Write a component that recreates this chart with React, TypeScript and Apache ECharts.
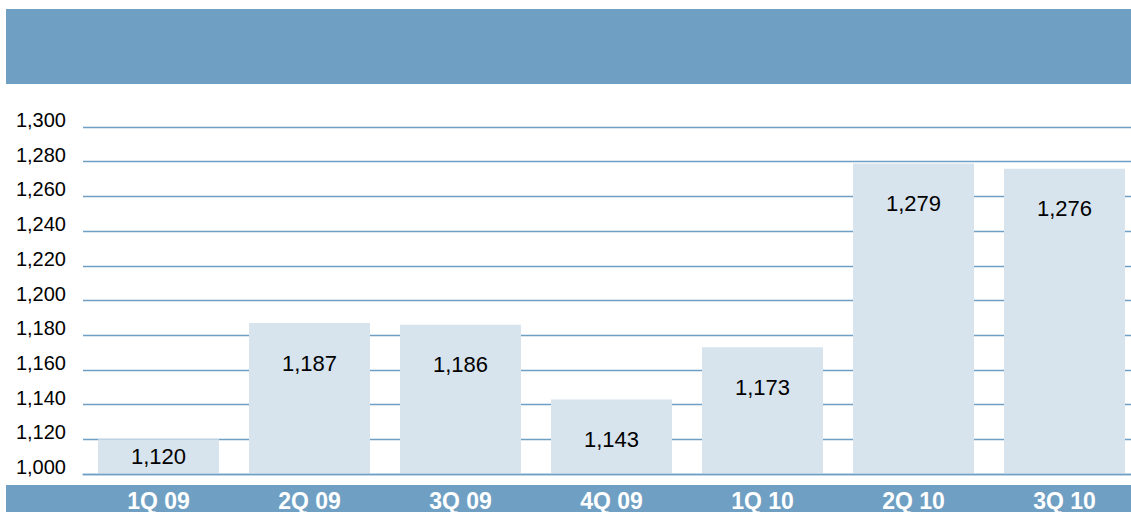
import React, { useEffect, useRef } from "react";
import * as echarts from "echarts";

const categories = ["1Q 09", "2Q 09", "3Q 09", "4Q 09", "1Q 10", "2Q 10", "3Q 10"];
const values = [1120, 1187, 1186, 1143, 1173, 1279, 1276];
const yTickLabels = ["1,000", "1,120", "1,140", "1,160", "1,180", "1,200", "1,220", "1,240", "1,260", "1,280", "1,300"];
const yMin = 1100;
const yMax = 1300;
const yStep = 20;

const BLUE = "#6fa0c3";
const BAR = "#d7e3ed";
const FONT = "'Liberation Sans', Arial, Helvetica, sans-serif";

export default function App() {
  const ref = useRef<HTMLDivElement>(null);
  useEffect(() => {
    if (!ref.current) return;
    const chart = echarts.init(ref.current, null, { renderer: "svg" });
    chart.setOption({
      animation: false,
      backgroundColor: "#ffffff",
      textStyle: { fontFamily: FONT },
      graphic: [
        { type: "rect", shape: { x: 6, y: 9, width: 1125, height: 75 }, style: { fill: BLUE }, z: 0 },
        { type: "rect", shape: { x: 6, y: 485, width: 1125, height: 27 }, style: { fill: BLUE }, z: 0 },
      ],
      grid: {
        left: 83,
        top: 127,
        width: 1057,
        height: 347,
        containLabel: false,
        outerBoundsMode: "none",
      },
      xAxis: {
        type: "category",
        data: categories,
        axisLine: { show: true, lineStyle: { color: BLUE, width: 1.3 } },
        axisTick: { show: false },
        axisLabel: {
          color: "#ffffff",
          fontWeight: "bold",
          fontSize: 23,
          fontFamily: FONT,
          margin: 15,
        },
        z: 5,
      },
      yAxis: {
        type: "value",
        min: yMin,
        max: yMax,
        interval: yStep,
        axisLine: { show: false },
        axisTick: { show: false },
        splitLine: { show: true, lineStyle: { color: BLUE, width: 1.3 } },
        axisLabel: {
          color: "#000000",
          fontSize: 20,
          fontFamily: FONT,
          margin: 17,
          align: "right",
          verticalAlign: "bottom",
          lineHeight: 14,
          formatter: (v: number) => yTickLabels[Math.round((v - yMin) / yStep)] ?? "",
        },
      },
      series: [
        {
          type: "bar",
          barWidth: 121,
          itemStyle: { color: BAR },
          data: values.map((v, i) =>
            i === 0 ? { value: v, label: { position: "inside" } } : { value: v }
          ),
          label: {
            show: true,
            position: "insideTop",
            distance: 29,
            color: "#000000",
            fontSize: 22,
            fontFamily: FONT,
            formatter: (p: any) => Number(p.value).toLocaleString("en-US"),
          },
        },
      ],
    });
    return () => chart.dispose();
  }, []);
  return (
    <div
      ref={ref}
      style={{ position: "fixed", left: 0, top: 0, width: 1131, height: 512 }}
    />
  );
}
